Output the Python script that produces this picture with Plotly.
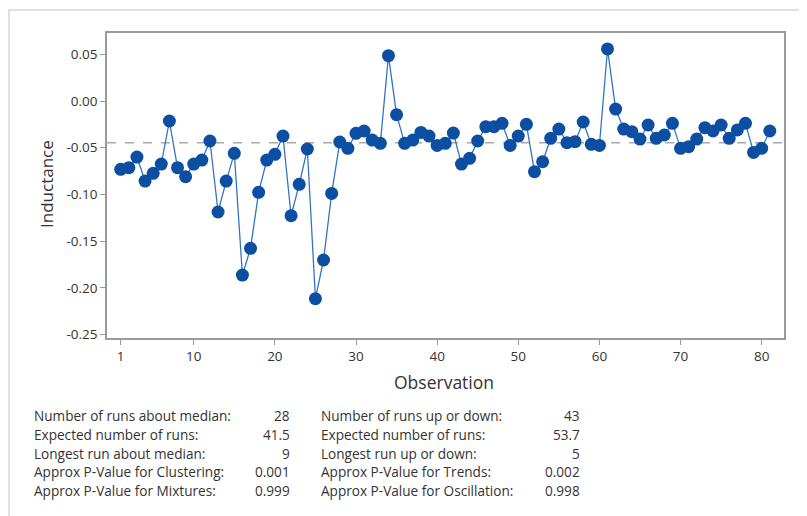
import numpy as np
import plotly.graph_objects as go

observation = list(range(1, 82))
inductance = [
    -0.0731, -0.0714, -0.0600, -0.0857, -0.0774, -0.0675, -0.0214, -0.0714, -0.0810, -0.0675,
    -0.0632, -0.0428, -0.1188, -0.0857, -0.0560, -0.1863, -0.1577, -0.0978, -0.0632, -0.0571,
    -0.0375, -0.1228, -0.0892, -0.0514, -0.2116, -0.1702, -0.0989, -0.0439, -0.0507, -0.0346,
    -0.0321, -0.0418, -0.0453, 0.0485, -0.0146, -0.0453, -0.0418, -0.0336, -0.0375, -0.0475,
    -0.0453, -0.0343, -0.0675, -0.0614, -0.0428, -0.0275, -0.0275, -0.0239, -0.0475, -0.0375,
    -0.0250, -0.0757, -0.0650, -0.0400, -0.0300, -0.0446, -0.0435, -0.0225, -0.0464, -0.0475,
    0.0557, -0.0086, -0.0300, -0.0328, -0.0407, -0.0257, -0.0400, -0.0364, -0.0239, -0.0507,
    -0.0489, -0.0407, -0.0285, -0.0321, -0.0257, -0.0400, -0.0310, -0.0239, -0.0550, -0.0507,
    -0.0321,
]
median_value = -0.0446

x_tick_vals = [1, 10, 20, 30, 40, 50, 60, 70, 80]
y_tick_vals = [0.05, 0.00, -0.05, -0.10, -0.15, -0.20, -0.25]
y_tick_text = ["0.05", "0.00", "-0.05", "-0.10", "-0.15", "-0.20", "-0.25"]

stats_left_labels = [
    "Number of runs about median:",
    "Expected number of runs:",
    "Longest run about median:",
    "Approx P-Value for Clustering:",
    "Approx P-Value for Mixtures:",
]
stats_left_values = ["28", "41.5", "9", "0.001", "0.999"]
stats_right_labels = [
    "Number of runs up or down:",
    "Expected number of runs:",
    "Longest run up or down:",
    "Approx P-Value for Trends:",
    "Approx P-Value for Oscillation:",
]
stats_right_values = ["43", "53.7", "5", "0.002", "0.998"]

# page offset (default body margin of the html page)
OFF = 8
W, H = 807 - OFF, 516 - OFF
# plot area in page pixels
L, R, T, B = 107, 784, 33, 338


def px(xp):
    return (xp - L) / (R - L)


def py(yp):
    return (B - yp) / (B - T)


FONT = "Open Sans"
TXT = "#333333"
STAT_SIZE = 13.6

fig = go.Figure()
fig.add_trace(go.Scatter(
    x=observation, y=inductance, mode="lines+markers",
    line=dict(color="#3374c0", width=1.3),
    marker=dict(color="#0b4ea2", size=13, line=dict(width=0)),
    showlegend=False, hoverinfo="x+y",
))

shapes = [
    dict(type="line", xref="paper", yref="y", x0=0, x1=1, y0=median_value, y1=median_value,
         line=dict(color="#a8a8a8", width=1.5, dash="dash"), layer="below"),
    dict(type="rect", xref="paper", yref="paper", x0=px(OFF + 1), x1=px(830), y0=py(540), y1=py(OFF + 2),
         line=dict(color="#d8d8d8", width=1.5), layer="below"),
]

annotations = [
    dict(text="Inductance", xref="paper", yref="paper", x=px(47), y=py(184), showarrow=False,
         textangle=-90, font=dict(family=FONT, size=17, color=TXT), xanchor="center", yanchor="middle"),
    dict(text="Observation", xref="paper", yref="paper", x=px(444), y=py(382), showarrow=False,
         font=dict(family=FONT, size=17.5, color=TXT), xanchor="center", yanchor="middle"),
]
row_y = [415, 434, 453, 472, 490]
for i in range(5):
    annotations.append(dict(text=stats_left_labels[i], xref="paper", yref="paper", x=px(32), y=py(row_y[i]),
                            showarrow=False, xanchor="left", yanchor="middle",
                            font=dict(family=FONT, size=STAT_SIZE, color=TXT)))
    annotations.append(dict(text=stats_left_values[i], xref="paper", yref="paper", x=px(292), y=py(row_y[i]),
                            showarrow=False, xanchor="right", yanchor="middle",
                            font=dict(family=FONT, size=STAT_SIZE, color=TXT)))
    annotations.append(dict(text=stats_right_labels[i], xref="paper", yref="paper", x=px(319), y=py(row_y[i]),
                            showarrow=False, xanchor="left", yanchor="middle",
                            font=dict(family=FONT, size=STAT_SIZE, color=TXT)))
    annotations.append(dict(text=stats_right_values[i], xref="paper", yref="paper", x=px(582), y=py(row_y[i]),
                            showarrow=False, xanchor="right", yanchor="middle",
                            font=dict(family=FONT, size=STAT_SIZE, color=TXT)))

fig.update_layout(
    width=W, height=H,
    margin=dict(l=L - OFF, r=W - (R - OFF), t=T - OFF, b=H - (B - OFF), pad=0),
    paper_bgcolor="white", plot_bgcolor="white",
    shapes=shapes, annotations=annotations,
    xaxis=dict(range=[-0.69, 82.75], tickvals=x_tick_vals, showgrid=False, zeroline=False,
               showline=True, mirror=True, linecolor="#9a9a9a", linewidth=1.5,
               ticks="outside", ticklen=5, tickcolor="#9a9a9a", tickwidth=1,
               tickfont=dict(family=FONT, size=13.5, color=TXT)),
    yaxis=dict(range=[-0.2537, 0.0728], tickvals=y_tick_vals, ticktext=y_tick_text,
               showgrid=False, zeroline=False,
               showline=True, mirror=True, linecolor="#9a9a9a", linewidth=1.5,
               ticks="outside", ticklen=5, tickcolor="#9a9a9a", tickwidth=1,
               tickfont=dict(family=FONT, size=13.5, color=TXT)),
)

fig.write_html("out.html")
